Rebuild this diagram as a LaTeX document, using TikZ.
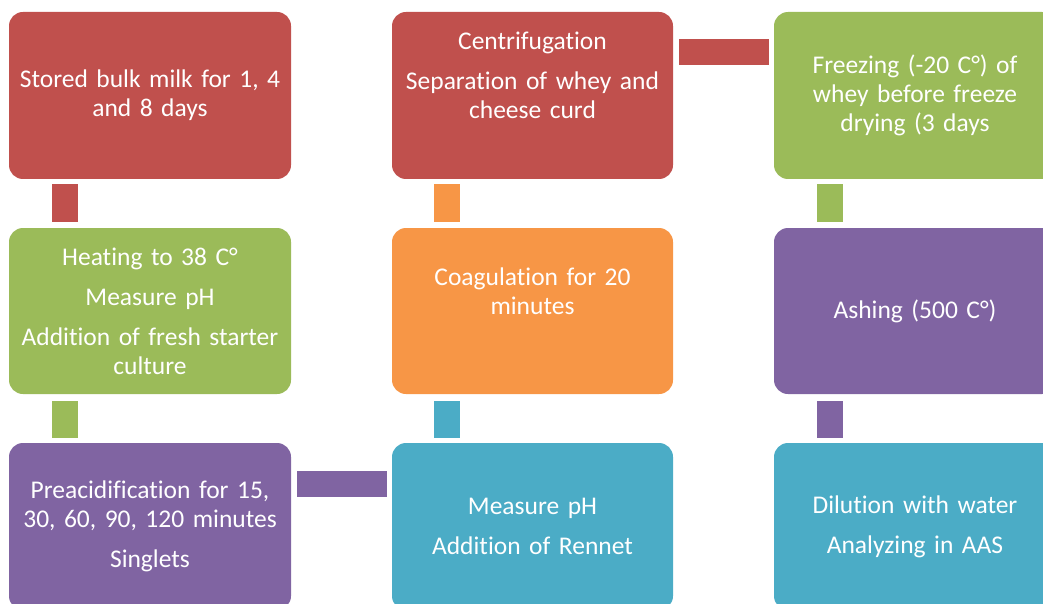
\documentclass[tikz,border=0pt]{standalone}
\usepackage{fontspec}
\setmainfont[Ligatures={NoCommon}]{Carlito}
\definecolor{cred}{HTML}{C0504D}
\definecolor{cgreen}{HTML}{9BBB59}
\definecolor{cpurple}{HTML}{8064A2}
\definecolor{corange}{HTML}{F79646}
\definecolor{cteal}{HTML}{4BACC6}
\begin{document}
\begin{tikzpicture}[x=1pt,y=-1pt,
  box/.style={rectangle, rounded corners=14pt, minimum width=282pt, minimum height=167pt,
    text=white, align=center, text width=276pt, inner sep=0pt,
    font=\fontsize{25.5}{29}\selectfont},
  conn/.style={line width=26pt, line cap=butt}]
\useasboundingbox (0,0) rectangle (1043,604);
\clip (0,0) rectangle (1043,604);
% column 1
\node[box, fill=cred] (b11) at (150,95.5) {Stored bulk milk for 1, 4\\and 8 days};
\node[box, fill=cgreen, minimum height=166pt] (b21) at (150,311) {Heating to 38 C°\\[11pt]Measure pH\\[11pt]Addition of fresh starter\\culture};
\node[box, fill=cpurple] (b31) at (150,526.5) {Preacidification for 15,\\30, 60, 90, 120 minutes\\[11pt]Singlets};
% column 2
\node[box, fill=cred, minimum width=281pt] (b12) at (532.5,95.5) {Centrifugation\\[11pt]Separation of whey and\\cheese curd\\[11pt]\mbox{}};
\node[box, fill=corange, minimum width=281pt, minimum height=166pt] (b22) at (532.5,311) {Coagulation for 20\\minutes\\[11pt]\mbox{}};
\node[box, fill=cteal, minimum width=281pt] (b32) at (532.5,526.5) {Measure pH\\[11pt]Addition of Rennet};
% column 3
\node[box, fill=cgreen] (b13) at (915,95.5) {Freezing (-20 C°) of\\whey before freeze\\drying (3 days};
\node[box, fill=cpurple, minimum height=166pt] (b23) at (915,311) {Ashing (500 C°)};
\node[box, fill=cteal] (b33) at (915,526.5) {Dilution with water\\[11pt]Analyzing in AAS};
% connectors
\draw[conn, cred] ([xshift=-85pt,yshift=-5pt]b11.south) -- ([xshift=-85pt,yshift=6pt]b21.north);
\draw[conn, cgreen] ([xshift=-85pt,yshift=-7pt]b21.south) -- ([xshift=-85pt,yshift=5pt]b31.north);
\draw[conn, cpurple] ([xshift=6pt,yshift=42.5pt]b31.east) -- ([xshift=-5pt,yshift=42.5pt]b32.west);
\draw[conn, cteal] ([xshift=-85.5pt,yshift=5pt]b32.north) -- ([xshift=-85.5pt,yshift=-7pt]b22.south);
\draw[conn, corange] ([xshift=-85.5pt,yshift=6pt]b22.north) -- ([xshift=-85.5pt,yshift=-5pt]b12.south);
\draw[conn, cred] ([xshift=6pt,yshift=43.5pt]b12.east) -- ([xshift=-5pt,yshift=43.5pt]b13.west);
\draw[conn, cgreen] ([xshift=-85pt,yshift=-5pt]b13.south) -- ([xshift=-85pt,yshift=6pt]b23.north);
\draw[conn, cpurple] ([xshift=-85pt,yshift=-7pt]b23.south) -- ([xshift=-85pt,yshift=5pt]b33.north);
\end{tikzpicture}
\end{document}
